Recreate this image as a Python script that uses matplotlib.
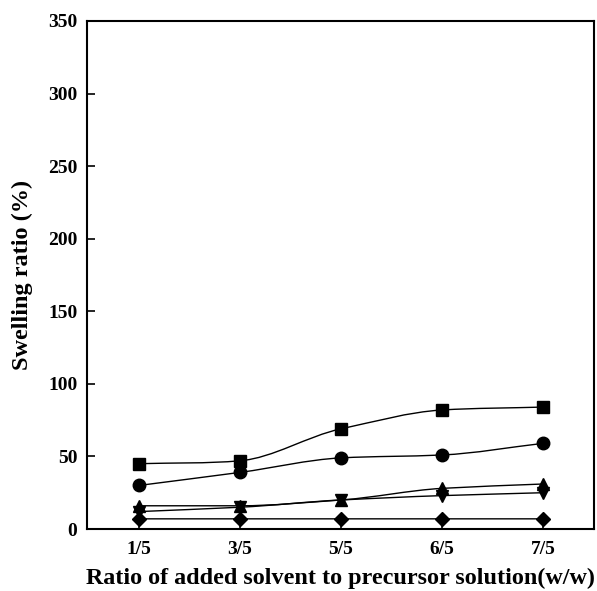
import matplotlib
matplotlib.use("Agg")
import matplotlib.pyplot as plt
from matplotlib.path import Path
from matplotlib.patches import PathPatch
import numpy as np

plt.rcParams['font.family'] = ['Liberation Serif', 'DejaVu Serif']
plt.rcParams['font.weight'] = 'bold'

categories = ["1/5", "3/5", "5/5", "6/5", "7/5"]
square = [45, 47, 69, 82, 84]
circle = [30, 39, 49, 51, 59]
tri_up = [16, 16, 20, 28, 31]
tri_down = [12, 15, 20, 23, 25]
diamond = [7, 7, 7, 7, 7]

series = [
    (square, 's', 8),
    (circle, 'o', 9),
    (tri_up, '^', 9),
    (tri_down, 'v', 9),
    (diamond, 'D', 7.5),
]

fig = plt.figure(figsize=(5.97, 5.91), dpi=100)
ax = fig.add_axes([87/597, 1 - 529/591, (594-87)/597, (529-21)/591])

x = np.arange(len(categories))


def smooth_path(xs, ys, tension=0.4):
    xs = np.asarray(xs, float)
    ys = np.asarray(ys, float)
    n = len(xs)
    m = np.zeros(n)
    d = np.diff(ys) / np.diff(xs)
    m[0] = d[0]
    m[-1] = d[-1]
    for i in range(1, n - 1):
        if d[i-1] * d[i] <= 0:
            m[i] = 0
        else:
            m[i] = tension * 0.5 * (d[i-1] + d[i]) + (1 - tension) * min(d[i-1], d[i], key=abs)
    verts = [(xs[0], ys[0])]
    codes = [Path.MOVETO]
    for i in range(n - 1):
        h = xs[i+1] - xs[i]
        verts += [(xs[i] + h/3, ys[i] + m[i]*h/3),
                  (xs[i+1] - h/3, ys[i+1] - m[i+1]*h/3),
                  (xs[i+1], ys[i+1])]
        codes += [Path.CURVE4] * 3
    return Path(verts, codes)


for vals, mk, ms in series:
    ax.add_patch(PathPatch(smooth_path(x, vals), facecolor='none',
                           edgecolor='black', lw=1.0, zorder=2))
    ax.plot(x, vals, linestyle='none', marker=mk, markersize=ms,
            color='black', zorder=3)

ax.set_xlim(-0.515, 4.505)
ax.set_ylim(0, 350)
ax.set_xticks(x)
ax.set_xticklabels(categories)
ax.set_yticks(np.arange(0, 351, 50))
ax.tick_params(axis='both', direction='in', length=6, width=1.2,
               labelsize=14, pad=7)
ax.tick_params(axis='x', pad=9)
for lab in ax.get_xticklabels() + ax.get_yticklabels():
    lab.set_fontweight('bold')
for sp in ax.spines.values():
    sp.set_linewidth(1.5)

ax.set_xlabel("Ratio of added solvent to precursor solution(w/w)",
              fontsize=17.4, fontweight='bold', labelpad=7)
ax.set_ylabel("Swelling ratio (%)", fontsize=17.5, fontweight='bold',
              labelpad=11)

fig.savefig("out.png", dpi=100)
